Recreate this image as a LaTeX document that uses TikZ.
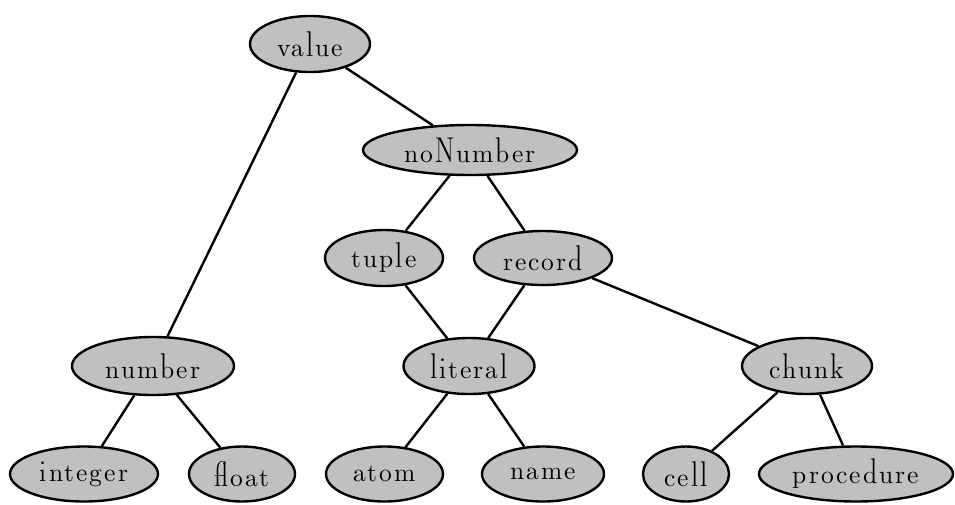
\documentclass[tikz,border=0pt]{standalone}
\usepackage{fontspec}
\newfontfamily\dunh[LetterSpace=8]{lmromandunh10-regular.otf}
\usetikzlibrary{shapes.geometric}
\definecolor{nodegray}{RGB}{192,192,192}
\tikzset{
  tnode/.style={ellipse, draw=black, fill=nodegray, line width=2.4pt, inner sep=0pt,
    font=\dunh\fontsize{25.5}{30}\selectfont},
  tedge/.style={line width=2.4pt}
}
\begin{document}
\begin{tikzpicture}[x=1pt,y=-1pt]
\useasboundingbox (0,0) rectangle (955,504);
\node[tnode, minimum width=120, minimum height=56] (value) at (310,44) {value};
\node[tnode, minimum width=214, minimum height=50] (noNumber) at (470,150) {noNumber};
\node[tnode, minimum width=118, minimum height=56] (tuple) at (384,258) {tuple};
\node[tnode, minimum width=138, minimum height=54] (record) at (543,258) {record};
\node[tnode, minimum width=162, minimum height=58] (number) at (153,366) {number};
\node[tnode, minimum width=131, minimum height=56] (literal) at (469,366) {literal};
\node[tnode, minimum width=130, minimum height=56] (chunk) at (807,366) {chunk};
\node[tnode, minimum width=148, minimum height=55] (integer) at (84,474) {integer};
\node[tnode, minimum width=106, minimum height=55] (float) at (242,474) {float};
\node[tnode, minimum width=117, minimum height=55] (atom) at (384.5,474) {atom};
\node[tnode, minimum width=122, minimum height=55] (name) at (543,474) {name};
\node[tnode, minimum width=86, minimum height=55] (cell) at (686,474) {cell};
\node[tnode, minimum width=194, minimum height=55] (procedure) at (856,474) {procedure};
\draw[tedge] (value) -- (number);
\draw[tedge] (value) -- (noNumber);
\draw[tedge] (noNumber) -- (tuple);
\draw[tedge] (noNumber) -- (record);
\draw[tedge] (tuple) -- (literal);
\draw[tedge] (record) -- (literal);
\draw[tedge] (record) -- (chunk);
\draw[tedge] (number) -- (integer);
\draw[tedge] (number) -- (float);
\draw[tedge] (literal) -- (atom);
\draw[tedge] (literal) -- (name);
\draw[tedge] (chunk) -- (cell);
\draw[tedge] (chunk) -- (procedure);
\end{tikzpicture}
\end{document}
